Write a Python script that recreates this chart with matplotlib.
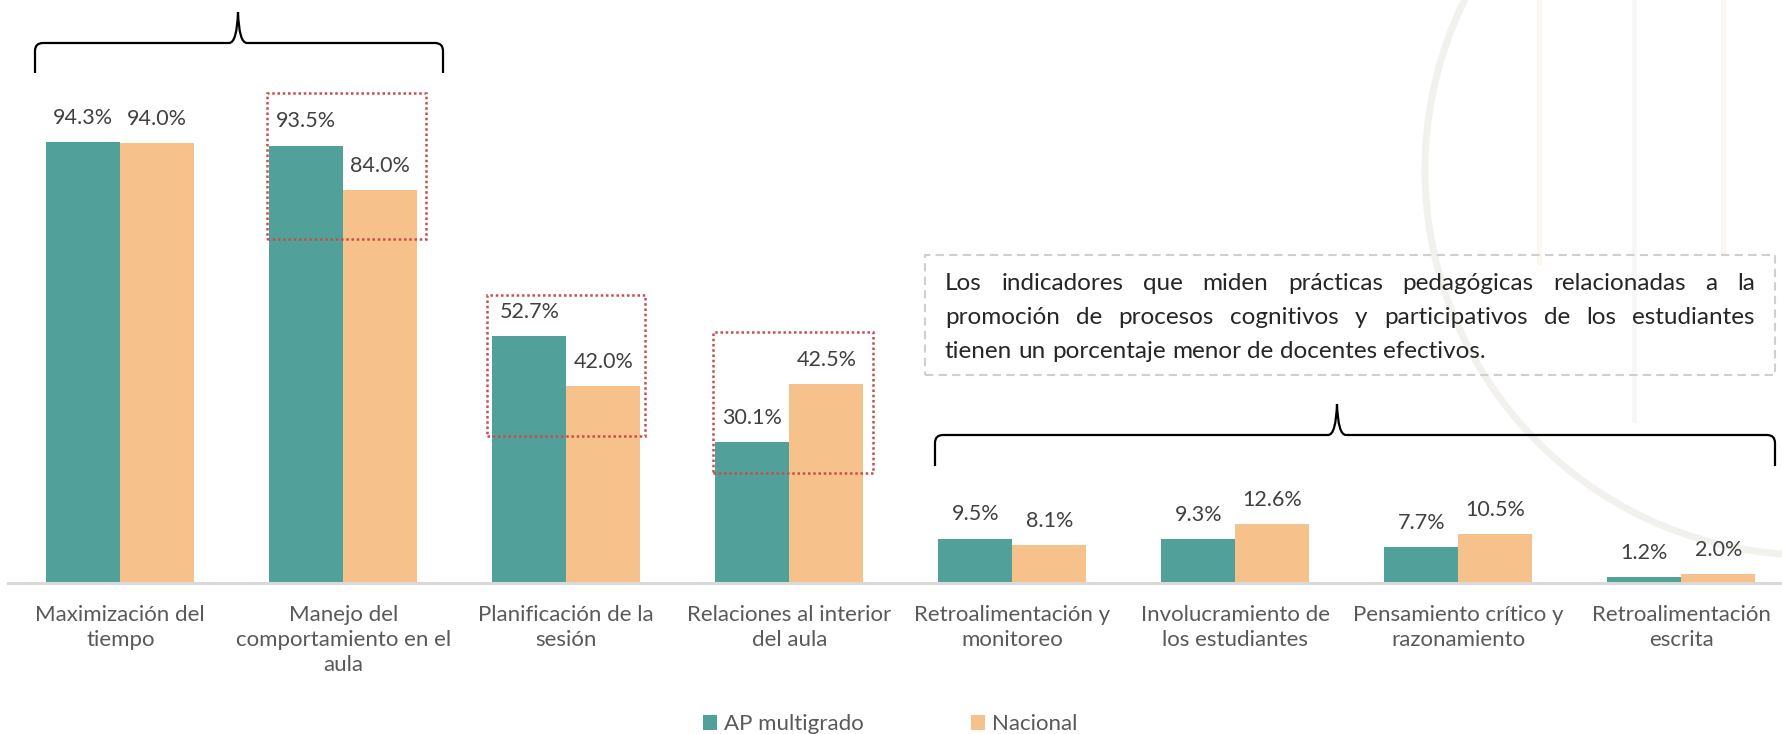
import numpy as np
import matplotlib
matplotlib.use("Agg")
import matplotlib.pyplot as plt
from matplotlib.patches import Rectangle, Circle, PathPatch
from matplotlib.path import Path

plt.rcParams['font.family'] = ['Lato', 'DejaVu Sans']

categories = ["Maximización del\ntiempo",
              "Manejo del\ncomportamiento en el\naula",
              "Planificación de la\nsesión",
              "Relaciones al interior\ndel aula",
              "Retroalimentación y\nmonitoreo",
              "Involucramiento de\nlos estudiantes",
              "Pensamiento crítico y\nrazonamiento",
              "Retroalimentación\nescrita"]
ap_multigrado = [94.3, 93.5, 52.7, 30.1, 9.5, 9.3, 7.7, 1.2]
nacional = [94.0, 84.0, 42.0, 42.5, 8.1, 12.6, 10.5, 2.0]
series_names = ["AP multigrado", "Nacional"]
note_lines = ["Los indicadores que miden prácticas pedagógicas relacionadas a la",
              "promoción de procesos cognitivos y participativos de los estudiantes",
              "tienen un porcentaje menor de docentes efectivos."]

TEAL = "#52a09a"
ORANGE = "#f6c18a"
W, H = 1783, 734

fig = plt.figure(figsize=(W / 100, H / 100), dpi=100)
ax = fig.add_axes([8 / W, 1 - 583 / H, 1 - 8 / W, 583 / H])
ax.set_facecolor("none")

# faint watermark (arc + ropes) behind the chart
def fx(px):
    return px / W

def fy(py):
    return 1 - py / H

wm = Circle((1810 / 100, (H - 170) / 100), 385 / 100, transform=fig.dpi_scale_trans,
            fill=False, ec="#f3f1ee", lw=5, zorder=-2)
fig.add_artist(wm)
for rx, ry, rc in [(1539, 262, "#fdf7f2"), (1634, 420, "#f8f7f6"), (1723, 252, "#fdf7f2")]:
    fig.add_artist(plt.Line2D([fx(rx), fx(rx)], [fy(0), fy(ry)], transform=fig.transFigure,
                              color=rc, lw=3.5, zorder=-2))

x = np.arange(len(categories))
w = 0.332
b1 = ax.bar(x - w / 2, ap_multigrado, w, color=TEAL, label=series_names[0])
b2 = ax.bar(x + w / 2, nacional, w, color=ORANGE, label=series_names[1])

for bars, vals in [(b1, ap_multigrado), (b2, nacional)]:
    for r, v in zip(bars, vals):
        ax.annotate(f"{v:.1f}%", (r.get_x() + r.get_width() / 2, v), xytext=(0, 13),
                    textcoords="offset points", ha="center", va="baseline",
                    fontsize=15.5, color="#404040")

ax.set_xlim(-0.5036, 7.456)
ax.set_ylim(0, 124.6)
ax.set_xticks(x, categories, fontsize=16, color="#595959", linespacing=1.3)
ax.tick_params(axis="x", length=0, pad=16)
ax.set_yticks([])
for s in ["top", "right", "left"]:
    ax.spines[s].set_visible(False)
ax.spines["bottom"].set_color("#d9d9d9")
ax.spines["bottom"].set_linewidth(2.2)

# red dotted highlight boxes (data coords)
for x0, x1, y0, y1 in [(0.657, 1.370, 73.5, 104.7), (1.643, 2.352, 31.4, 61.5),
                       (2.657, 3.374, 23.5, 53.6)]:
    ax.add_patch(Rectangle((x0, y0), x1 - x0, y1 - y0, fill=False, ec="#cc4b4b",
                           lw=1.8, ls=(0, (1, 1.1)), clip_on=False, zorder=5))

# braces
def brace(x0, x1, xc, yh, yend, ytop, r=8, c=9):
    pts = [(x0, yend), (x0, yh + r), (x0, yh), (x0 + r, yh), (xc - c, yh),
           (xc - 1, yh), (xc, ytop), (xc + 1, yh), (xc + c, yh), (x1 - r, yh),
           (x1, yh), (x1, yh + r), (x1, yend)]
    codes = [Path.MOVETO, Path.LINETO, Path.CURVE3, Path.CURVE3, Path.LINETO,
             Path.CURVE3, Path.CURVE3, Path.CURVE3, Path.CURVE3, Path.LINETO,
             Path.CURVE3, Path.CURVE3, Path.LINETO]
    p = Path([(fx(a), fy(b)) for a, b in pts], codes)
    fig.add_artist(PathPatch(p, fill=False, ec="black", lw=1.6, transform=fig.transFigure))

brace(35, 443, 238, 43, 73, 12)
brace(935, 1775, 1337, 435, 466, 404)

# note box with justified text
fig.add_artist(Rectangle((fx(925), fy(375)), (1775 - 925) / W, 120 / H, transform=fig.transFigure,
                         fill=False, ec="#cfcfcf", lw=1.5, ls=(0, (4, 2.5))))
renderer = fig.canvas.get_renderer()
size = 17.5
left, right = 945, 1755
widths = []
for line in note_lines:
    t = fig.text(0, 0, line, fontsize=size)
    widths.append(t.get_window_extent(renderer).width)
    t.remove()
if max(widths) > (right - left) * 0.985:
    size *= (right - left) * 0.985 / max(widths)
for i, (line, yb) in enumerate(zip(note_lines, [290, 324, 358])):
    words = line.split()
    ts = [fig.text(0, fy(yb), wd, fontsize=size, color="#262626", va="baseline", ha="left")
          for wd in words]
    ws = [t.get_window_extent(renderer).width for t in ts]
    sp = fig.text(0, 0, "a b", fontsize=size)
    space = sp.get_window_extent(renderer).width
    sp.remove()
    sp = fig.text(0, 0, "ab", fontsize=size)
    space -= sp.get_window_extent(renderer).width
    sp.remove()
    if i < len(note_lines) - 1:
        gap = (right - left - sum(ws)) / (len(words) - 1)
    else:
        gap = space
    cx = left
    for t, wd in zip(ts, ws):
        t.set_x(fx(cx))
        cx += wd + gap

fig.legend(handles=[b1, b2], labels=series_names, loc="center", bbox_to_anchor=(fx(890), fy(724)),
           ncol=2, frameon=False, fontsize=16, labelcolor="#595959", handlelength=0.65,
           handleheight=0.65, handletextpad=0.3, columnspacing=4.8, borderpad=0)

fig.savefig("out.png", dpi=100)
